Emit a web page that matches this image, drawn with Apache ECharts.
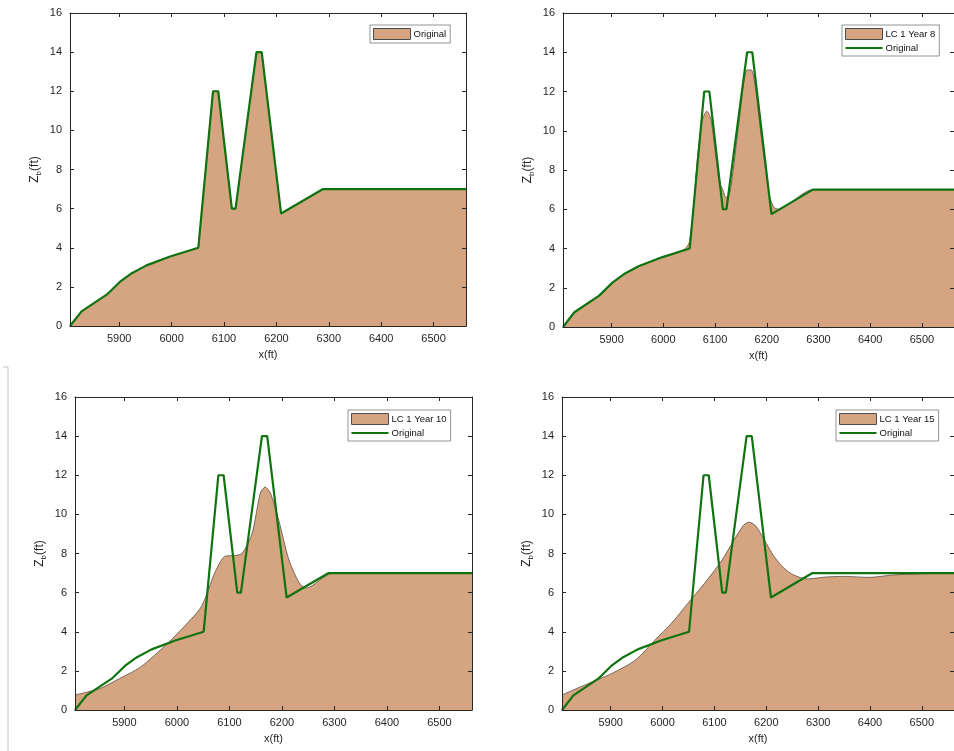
<!DOCTYPE html>
<html><head><meta charset="utf-8">
<script src="https://cdn.jsdelivr.net/npm/echarts@6/dist/echarts.min.js"></script>
<style>html,body{margin:0;padding:0;background:#fff}#c{width:954px;height:751px}</style>
</head><body><div id="c"></div>
<script>
// ---- data ----
const xOriginal = [5806, 5828, 5876, 5901, 5924, 5952, 5997, 6051, 6079, 6089, 6115, 6122, 6162, 6172, 6209, 6289, 6562];
const zOriginal = [0, 0.75, 1.6, 2.25, 2.7, 3.1, 3.55, 4.0, 12, 12, 6, 6, 14, 14, 5.75, 7, 7];

const xYear8 = [5806, 5828, 5876, 5901, 5924, 5952, 5997, 6040, 6050, 6058, 6066, 6075, 6084, 6092, 6100, 6108, 6115, 6121, 6128, 6136, 6146, 6155, 6162, 6170, 6178, 6188, 6198, 6206, 6214, 6222, 6289, 6562];
const zYear8 = [0, 0.75, 1.6, 2.25, 2.7, 3.1, 3.55, 3.95, 4.3, 6.0, 8.6, 10.5, 11.0, 10.6, 9.0, 7.4, 7.0, 6.6, 6.8, 8.2, 10.4, 12.4, 13.1, 13.1, 12.2, 10.0, 8.0, 6.6, 6.1, 6.0, 7.0, 7.0];

const xYear10 = [5806, 5854, 5886, 5931, 5982, 6014, 6047, 6072, 6091, 6111, 6124, 6143, 6159, 6168, 6178, 6194, 6213, 6233, 6246, 6297, 6562];
const zYear10 = [0.77, 1.1, 1.54, 2.2, 3.4, 4.27, 5.3, 7.0, 7.85, 7.9, 8.0, 9.0, 11.1, 11.4, 11.1, 9.7, 7.7, 6.5, 6.23, 7.0, 7.0];

const xYear15 = [5806, 5858, 5903, 5948, 5986, 6017, 6049, 6081, 6113, 6138, 6157, 6167, 6180, 6196, 6215, 6234, 6253, 6278, 6316, 6348, 6399, 6444, 6494, 6562];
const zYear15 = [0.77, 1.37, 1.88, 2.56, 3.6, 4.43, 5.46, 6.48, 7.6, 8.7, 9.47, 9.6, 9.4, 8.7, 7.85, 7.25, 6.9, 6.7, 6.8, 6.83, 6.78, 6.9, 6.96, 7.0];

const xTickValues = [5900, 6000, 6100, 6200, 6300, 6400, 6500];
const yTickValues = [0, 2, 4, 6, 8, 10, 12, 14, 16];
const panelNames = ['Original', 'LC 1 Year 8', 'LC 1 Year 10', 'LC 1 Year 15'];
const xMin = 5806, xMax = 6562, yMin = 0, yMax = 16;

// ---- styling ----
const BROWN = '#d5a581';
const EDGE = '#5e4d42';
const GREEN = '#0f730f';
const AX = '#262626';
const FONT = 'Liberation Sans, Arial, sans-serif';

const zip = (xs, ys) => xs.map((x, i) => [x, ys[i]]);
const fills = [zip(xOriginal, zOriginal), zip(xYear8, zYear8), zip(xYear10, zYear10), zip(xYear15, zYear15)];
const origLine = zip(xOriginal, zOriginal);

const grids = [
  {left: 70, top: 13, width: 396, height: 313},
  {left: 563, top: 13, width: 396, height: 314},
  {left: 75, top: 397, width: 397, height: 313},
  {left: 562, top: 397, width: 396, height: 313}
];
const legendPos = [
  {left: 370, top: 25},
  {left: 842, top: 25},
  {left: 348, top: 410},
  {left: 836, top: 410}
];

const xAxes = [], yAxes = [], series = [], legends = [];
grids.forEach((g, i) => {
  const common = {
    type: 'value', gridIndex: i, z: 10,
    axisLine: {show: true, onZero: false, lineStyle: {color: AX, width: 1}},
    splitLine: {show: false}
  };
  xAxes.push(Object.assign({}, common, {
    min: xMin, max: xMax, position: 'bottom',
    axisTick: {show: true, inside: true, length: 4, customValues: xTickValues, lineStyle: {color: AX}},
    axisLabel: {customValues: xTickValues, color: AX, fontSize: 11, margin: 7, fontFamily: FONT,
      formatter: v => String(v)},
    name: 'x(ft)', nameLocation: 'middle', nameGap: 23,
    nameTextStyle: {color: AX, fontSize: 11, fontFamily: FONT}
  }));
  xAxes.push(Object.assign({}, common, {
    min: xMin, max: xMax, position: 'top',
    axisTick: {show: true, inside: true, length: 4, customValues: xTickValues, lineStyle: {color: AX}},
    axisLabel: {show: false}
  }));
  yAxes.push(Object.assign({}, common, {
    min: yMin, max: yMax, interval: 2, position: 'left',
    axisTick: {show: true, inside: true, length: 4, customValues: yTickValues, lineStyle: {color: AX}},
    axisLabel: {customValues: yTickValues, color: AX, fontSize: 11, margin: 8, fontFamily: FONT,
      formatter: v => String(v)},
    name: '{z|Z}{s|b}{z|(ft)}', nameLocation: 'middle', nameGap: 27, nameRotate: 90,
    nameTextStyle: {
      color: AX, fontFamily: FONT,
      rich: {
        z: {fontSize: 12, lineHeight: 16, color: AX, fontFamily: FONT, verticalAlign: 'middle'},
        s: {fontSize: 8, lineHeight: 8, color: AX, fontFamily: FONT, verticalAlign: 'bottom'}
      }
    }
  }));
  yAxes.push(Object.assign({}, common, {
    min: yMin, max: yMax, interval: 2, position: 'right',
    axisTick: {show: true, inside: true, length: 4, lineStyle: {color: AX}},
    axisLabel: {show: false}
  }));

  series.push({
    type: 'line', name: panelNames[i], xAxisIndex: 2 * i, yAxisIndex: 2 * i,
    data: fills[i], symbol: 'none', smooth: i === 0 ? false : 0.25,
    lineStyle: {color: EDGE, width: 0.8},
    areaStyle: {color: BROWN, opacity: 1},
    z: 2, silent: true
  });
  series.push({
    type: 'line', name: i === 0 ? 'orig-profile' : 'Original',
    xAxisIndex: 2 * i, yAxisIndex: 2 * i,
    data: origLine, symbol: 'none', smooth: false,
    lineStyle: {color: GREEN, width: 2.2},
    z: 3, silent: true
  });

  const items = [{name: panelNames[i], icon: 'rect', itemStyle: {color: BROWN, borderColor: '#4d4d4d', borderWidth: 1}}];
  if (i > 0) items.push({name: 'Original', icon: 'path://M0,0H40V2.2H0Z', itemStyle: {color: GREEN, borderWidth: 0}});
  legends.push({
    left: legendPos[i].left, top: legendPos[i].top, orient: 'vertical',
    data: items, selectedMode: false,
    itemWidth: 37, itemHeight: 11, itemGap: 3,
    padding: [3, 4, 3, 3],
    backgroundColor: '#fff', borderColor: '#7a7a7a', borderWidth: 0.8,
    textStyle: {fontSize: 9.5, color: '#111', fontFamily: FONT, padding: [0, 0, 0, -2]}
  });
});

const chart = echarts.init(document.getElementById('c'), null, {renderer: 'canvas'});
chart.setOption({
  backgroundColor: '#fff',
  animation: false,
  grid: grids,
  xAxis: xAxes,
  yAxis: yAxes,
  series: series,
  legend: legends,
  graphic: [
    {type: 'line', shape: {x1: 8, y1: 367, x2: 8, y2: 751}, style: {stroke: '#c4c4c4', lineWidth: 1}},
    {type: 'line', shape: {x1: 3, y1: 367, x2: 8, y2: 367}, style: {stroke: '#c4c4c4', lineWidth: 1}}
  ]
});
</script></body></html>
